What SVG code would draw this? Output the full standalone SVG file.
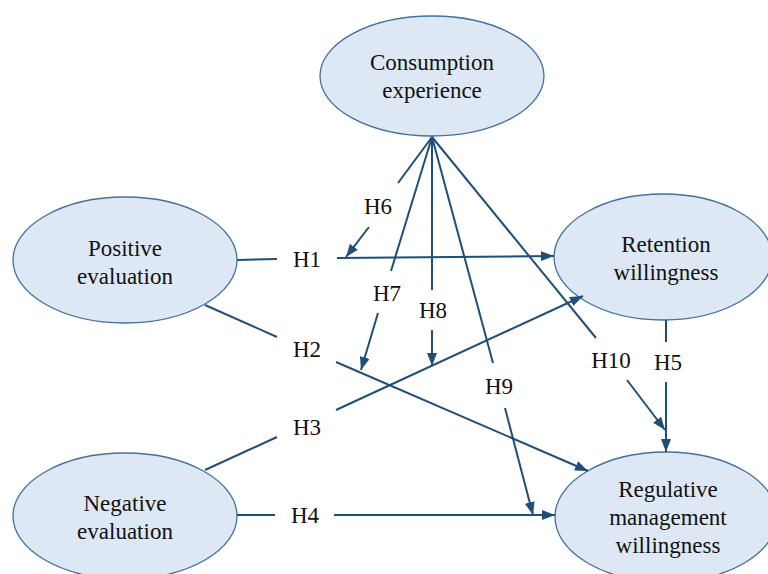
<svg xmlns="http://www.w3.org/2000/svg" width="768" height="574" viewBox="0 0 768 574">
<style>
.node ellipse{fill:#DEE8F5;stroke:#41719C;stroke-width:1.3}
text{font-size:23px;fill:#111;text-anchor:middle;dominant-baseline:central}
.c line{stroke:#1F4E79;stroke-width:2;fill:none}
.c line.a{marker-end:url(#ah)}
</style>
<defs>
<marker id="ah" markerUnits="userSpaceOnUse" markerWidth="14" markerHeight="12" refX="13" refY="5" orient="auto">
<path d="M0,0 L13,5 L0,10 Z" fill="#1F4E79"/>
</marker>
</defs>
<rect width="768" height="574" fill="#fff"/>
<g font-family="'Liberation Serif', 'DejaVu Serif', serif">
<g id="consumption" class="node"><ellipse cx="432" cy="76" rx="112" ry="60"/><text x="432" y="62">Consumption</text><text x="432" y="90">experience</text></g>
<g id="positive" class="node"><ellipse cx="125" cy="260" rx="112" ry="63"/><text x="125" y="248">Positive</text><text x="125" y="276">evaluation</text></g>
<g id="negative" class="node"><ellipse cx="125" cy="516" rx="112" ry="63"/><text x="125" y="503">Negative</text><text x="125" y="531">evaluation</text></g>
<g id="retention" class="node"><ellipse cx="663" cy="257" rx="109" ry="63"/><text x="666" y="244">Retention</text><text x="666" y="272">willingness</text></g>
<g id="regulative" class="node"><ellipse cx="666" cy="517" rx="111" ry="65"/><text x="668" y="489">Regulative</text><text x="668" y="517">management</text><text x="668" y="545">willingness</text></g>
<g id="connectors" class="c">
<line x1="237" y1="260" x2="277" y2="259"/><line class="a" x1="337" y1="258" x2="554" y2="256"/>
<line x1="205" y1="305" x2="277" y2="337"/><line class="a" x1="336" y1="362" x2="588" y2="471"/>
<line x1="205" y1="470" x2="277" y2="437"/><line class="a" x1="336" y1="410" x2="583" y2="296"/>
<line x1="237" y1="515" x2="275" y2="515"/><line class="a" x1="334" y1="515" x2="555" y2="515"/>
<line x1="666" y1="320" x2="666" y2="342"/><line class="a" x1="666" y1="382" x2="666" y2="452"/>
<line x1="432" y1="137" x2="398" y2="183"/><line class="a" x1="369" y1="227" x2="346" y2="257"/>
<line x1="432" y1="137" x2="391" y2="271"/><line class="a" x1="378" y1="313" x2="361" y2="370"/>
<line x1="432" y1="137" x2="432" y2="290"/><line class="a" x1="432" y1="330" x2="432" y2="366"/>
<line x1="432" y1="137" x2="493" y2="363"/><line class="a" x1="505" y1="408" x2="533" y2="515"/>
<line x1="432" y1="137" x2="596" y2="338"/><line class="a" x1="627" y1="380" x2="665" y2="430"/>
</g>
<g id="labels">
<text x="307" y="259">H1</text><text x="307" y="349">H2</text><text x="307" y="427">H3</text><text x="305" y="515">H4</text>
<text x="668" y="362">H5</text><text x="378" y="206">H6</text><text x="387" y="293">H7</text><text x="433" y="310">H8</text>
<text x="499" y="386">H9</text><text x="611" y="360">H10</text>
</g>
</g>
</svg>
